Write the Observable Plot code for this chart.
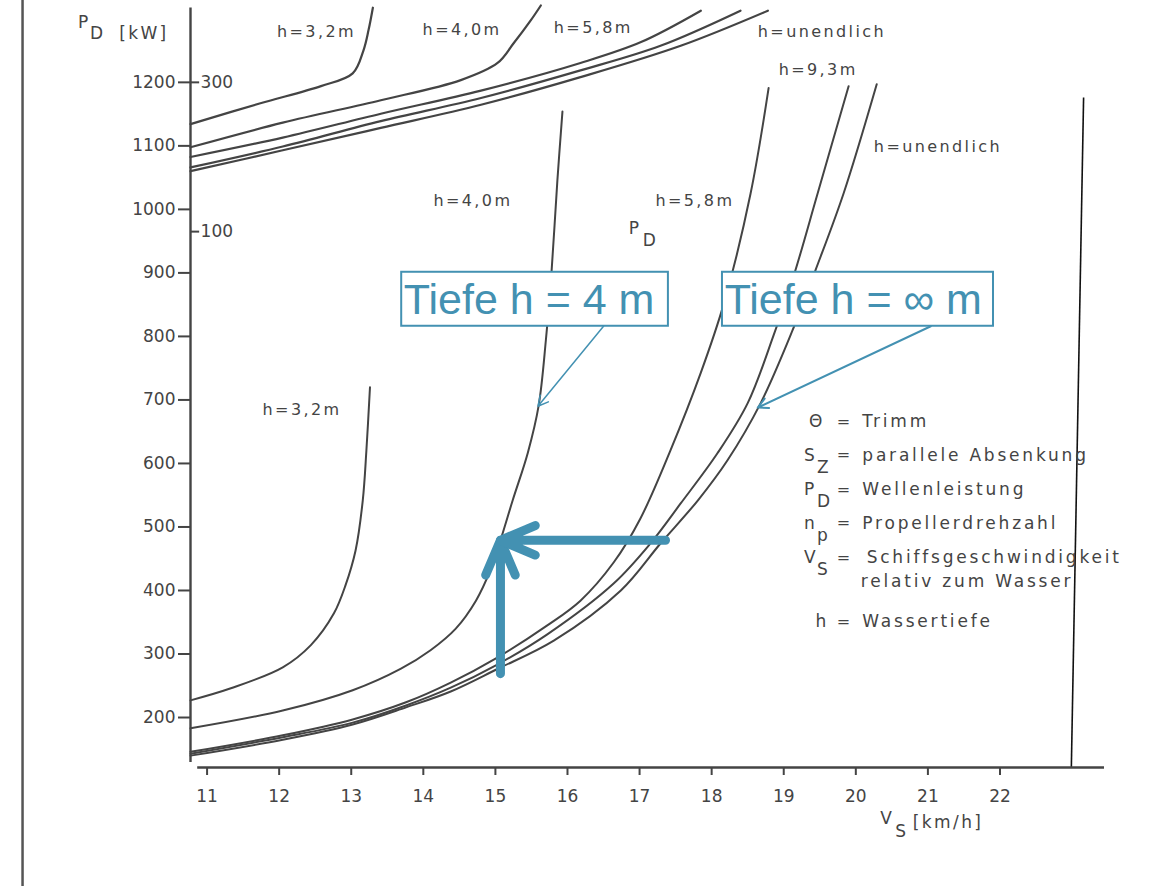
<!DOCTYPE html>
<html>
<head>
<meta charset="utf-8">
<script src="https://cdn.jsdelivr.net/npm/d3@7"></script>
<script src="https://cdn.jsdelivr.net/npm/@observablehq/plot@0.6"></script>
<style>
  html, body { margin: 0; padding: 0; background: #fff; }
  #chart svg { display: block; }
  g[aria-description="curve-labels"] text { letter-spacing: 2.4px; }
  g[aria-description="legend-text"] text { letter-spacing: 2.8px; }
  g[aria-description="legend-sym"] text { letter-spacing: 1px; }
</style>
</head>
<body>
<div id="chart"></div>
<script>
// ---- Data: V_S [km/h] vs P_D [kW] (lower family of curves) ----
const pdH32  = [[10.77,227],[11.33,246],[12.05,279],[12.44,314],[12.76,364],[12.92,408],[13.06,463],[13.16,542],[13.21,620],[13.26,720]];
const pdH40  = [[10.77,183],[12.05,211],[13.02,243],[13.69,277],[14.10,306],[14.45,340],[14.73,384],[14.93,432],[15.07,479],[15.24,542],[15.45,617],[15.60,691],[15.70,794],[15.78,904],[15.86,1046],[15.93,1154]];
const pdH58  = [[10.77,146],[12.05,172],[13.02,197],[13.76,224],[14.38,255],[15.02,294],[15.72,345],[16.18,384],[16.64,444],[17.01,513],[17.43,621],[17.85,743],[18.17,852],[18.54,1025],[18.79,1191]];
const pdH93  = [[10.77,143],[12.05,169],[13.02,192],[13.76,219],[14.38,247],[15.02,283],[15.72,331],[16.64,411],[17.15,474],[17.57,537],[18.08,616],[18.50,695],[18.86,802],[19.14,896],[19.47,1025],[19.90,1194]];
const pdHInf = [[10.77,140],[12.05,165],[13.02,189],[13.76,216],[14.38,241],[15.02,276],[15.81,321],[16.74,400],[17.29,474],[17.81,542],[18.22,605],[18.68,695],[19.12,809],[19.44,904],[19.83,1025],[20.29,1197]];

// ---- Data: V_S [km/h] vs n_p [1/min] (upper family, secondary scale) ----
const npH32  = [[10.77,244],[11.74,272],[12.58,295],[13.02,312],[13.17,343],[13.24,370],[13.30,400]];
const npH40  = [[10.77,213],[12.05,246],[13.41,276],[14.52,303],[15.03,326],[15.25,352],[15.49,383],[15.63,403]];
const npH58  = [[10.77,200],[12.05,226],[13.41,258],[14.80,289],[16.18,326],[17.02,354],[17.85,396]];
const npH93  = [[10.77,186],[12.05,214],[13.41,248],[14.80,279],[16.18,316],[17.29,349],[18.40,396]];
const npHInf = [[10.77,181],[12.05,209],[13.41,239],[14.80,270],[16.18,307],[17.57,349],[18.78,396]];

// ---- Axes ----
const speedTicks = [11,12,13,14,15,16,17,18,19,20,21,22];
const powerTicks = [200,300,400,500,600,700,800,900,1000,1100,1200];
const npTicks    = [100,300];      // secondary n_p ticks
const npTicksAtPower = [965,1200]; // where they sit on the P_D axis

// ---- Labels ----
const curveLabels = [
  {text:"h=3,2m", v:11.97, p:1279},
  {text:"h=4,0m", v:13.99, p:1282},
  {text:"h=5,8m", v:15.81, p:1285},
  {text:"h=unendlich", v:18.64, p:1279},
  {text:"h=9,3m", v:18.93, p:1219},
  {text:"h=unendlich", v:20.25, p:1098},
  {text:"h=4,0m", v:14.14, p:1014},
  {text:"h=5,8m", v:17.22, p:1013},
  {text:"h=3,2m", v:11.77, p:685}
];
const subLabels = [
  {main:"P", sub:"D", v:9.21, p:1294, subDx:12, subDy:11},
  {main:"P", sub:"D", v:16.85, p:970, subDx:14, subDy:12},
  {main:"V", sub:"S", v:20.34, p:41, subDx:15, subDy:13}
];
const unitLabels = [
  {text:"[kW]", v:9.78, p:1277},
  {text:"[km/h]", v:20.79, p:35}
];
const legendSym  = ["Θ","S","P","n","V","","h"];
const legendSub  = ["","Z","D","p","S","",""];
const legendEq   = ["=","=","=","=","=","","="];
const legendDesc = ["Trimm","parallele Absenkung","Wellenleistung","Propellerdrehzahl","Schiffsgeschwindigkeit","relativ zum Wasser","Wassertiefe"];
const legendRowPower = [666,613,559,506,452,414,351];
const legendSymX  = [19.35,19.28,19.28,19.28,19.28,19.28,19.44];
const legendDescX = [20.09,20.09,20.09,20.09,20.15,20.07,20.09];

// ---- Annotations ----
const boxes = [
  {text:"Tiefe h = 4 m", x1:13.70, x2:17.40, tx:13.73},
  {text:"Tiefe h = \u221E m", x1:18.15, x2:21.91, tx:18.18}
];
const boxPower = [816, 901, 857];
const thinArrows = [
  {x1:16.50, y1:816, x2:15.59, y2:690, w:1.5},
  {x1:21.04, y1:816, x2:18.64, y2:688, w:2}
];
const readSpeed = 15.07, readPower = 479, startPower = 269, startSpeed = 17.36;

const ink = "#444";
const blue = "#4391b2";
const npToP = d3.scaleLinear().domain(npTicks).range(npTicksAtPower);

const pdCurves = [pdH32, pdH40, pdH58, pdH93, pdHInf];
const npCurves = [npH32, npH40, npH58, npH93, npHInf];

const legendRows = legendDesc.map((d, i) => ({
  sym: legendSym[i], sub: legendSub[i], eq: legendEq[i], desc: d,
  p: legendRowPower[i], sx: legendSymX[i], dx: legendDescX[i]
}));

const chart = Plot.plot({
  width: 1149,
  height: 886,
  marginLeft: 190, marginRight: 45, marginTop: 5, marginBottom: 119,
  x: {domain: [10.77, 23.45]},
  y: {domain: [121.3, 1321]},
  style: {fontFamily: "DejaVu Sans", background: "#fff", overflow: "visible", color: ink},
  marks: [
    // scan border lines
    Plot.ruleX([8.44], {y1: -66, y2: 1329, stroke: "#555", strokeWidth: 2.5}),
    Plot.link([{x1: 23.16, y1: 1176, x2: 22.99, y2: 121.3}], {x1: "x1", y1: "y1", x2: "x2", y2: "y2", stroke: "#111", strokeWidth: 1.6}),
    // axes lines
    Plot.ruleX([10.77], {y1: 129, y2: 1317, stroke: ink, strokeWidth: 2.4}),
    Plot.ruleY([121.3], {x1: 10.87, x2: 23.45, stroke: ink, strokeWidth: 2.4}),
    Plot.axisY(powerTicks, {anchor: "left", tickSize: 12, tickPadding: 3, fontSize: 17, color: ink, strokeWidth: 2, label: null, tickFormat: d => String(d)}),
    Plot.axisX(speedTicks, {anchor: "bottom", tickSize: 8, tickPadding: 14, fontSize: 17, color: ink, strokeWidth: 2, label: null, tickFormat: d => String(d)}),
    // secondary n_p ticks
    Plot.link(npTicks, {x1: 10.77, x2: 10.89, y1: d => npToP(d), y2: d => npToP(d), stroke: ink, strokeWidth: 2}),
    Plot.text(npTicks, {x: 10.91, y: d => npToP(d), text: d => String(d), textAnchor: "start", fontSize: 17, fill: ink}),
    // curves
    ...pdCurves.map(c => Plot.line(c, {x: d => d[0], y: d => d[1], curve: "catmull-rom", stroke: ink, strokeWidth: 2})),
    ...npCurves.map(c => Plot.line(c, {x: d => d[0], y: d => npToP(d[1]), curve: "catmull-rom", stroke: ink, strokeWidth: 2.2})),
    // labels
    Plot.text(curveLabels, {x: "v", y: "p", text: "text", textAnchor: "start", fontSize: 16, fill: ink, ariaDescription: "curve-labels"}),
    Plot.text(subLabels, {x: "v", y: "p", text: "main", textAnchor: "start", fontSize: 17, fill: ink}),
    ...subLabels.map(s => Plot.text([s], {x: "v", y: "p", text: "sub", textAnchor: "start", fontSize: 17, fill: ink, dx: s.subDx, dy: s.subDy})),
    Plot.text(unitLabels, {x: "v", y: "p", text: "text", textAnchor: "start", fontSize: 17, fill: ink, ariaDescription: "curve-labels"}),
    // legend
    Plot.text(legendRows, {x: "sx", y: "p", text: "sym", textAnchor: "start", fontSize: 17, fill: ink, ariaDescription: "legend-sym"}),
    Plot.text(legendRows, {x: "sx", y: "p", text: "sub", textAnchor: "start", fontSize: 17, fill: ink, dx: 13, dy: 12}),
    Plot.text(legendRows, {x: 19.83, y: "p", text: "eq", textAnchor: "middle", fontSize: 16, fill: ink}),
    Plot.text(legendRows, {x: "dx", y: "p", text: "desc", textAnchor: "start", fontSize: 17, fill: ink, ariaDescription: "legend-text"}),
    // annotation boxes
    Plot.rect(boxes, {x1: "x1", x2: "x2", y1: boxPower[0], y2: boxPower[1], fill: "#fff", stroke: blue, strokeWidth: 2}),
    Plot.text(boxes, {x: "tx", y: boxPower[2], text: "text", textAnchor: "start", fontFamily: "Liberation Sans", fontSize: 43, fill: blue}),
    Plot.arrow(thinArrows, {x1: "x1", y1: "y1", x2: "x2", y2: "y2", stroke: blue, strokeWidth: d => d.w, headLength: 17, headAngle: 55}),
    // reading arrows
    Plot.arrow([{x1: readSpeed, y1: startPower, x2: readSpeed, y2: readPower}, {x1: startSpeed, y1: readPower, x2: readSpeed, y2: readPower}],
      {x1: "x1", y1: "y1", x2: "x2", y2: "y2", stroke: blue, strokeWidth: 9, headLength: 6.3, headAngle: 46, strokeLinecap: "round"})
  ]
});
document.getElementById("chart").append(chart);
</script>
</body>
</html>
